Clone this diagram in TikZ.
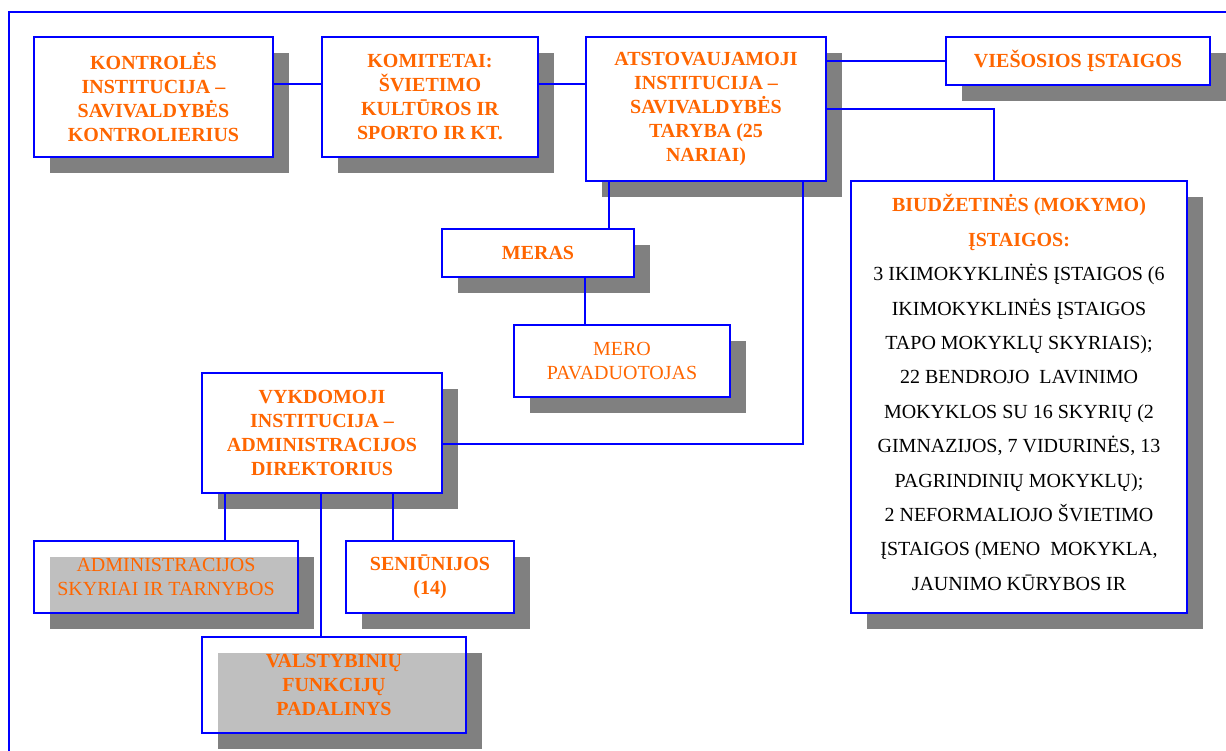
\documentclass[tikz,border=0pt]{standalone}
\usepackage{fontspec}
\setmainfont{Liberation Serif}
\usetikzlibrary{shadows}
\definecolor{lineblue}{RGB}{0,0,255}
\definecolor{txtorange}{RGB}{255,102,0}
\definecolor{shadowgrey}{RGB}{128,128,128}
\newcommand{\hd}[1]{\textcolor{txtorange}{\textbf{#1}}}
\tikzset{
  link/.style={draw=lineblue, line width=2pt},
  orgbox/.style={
    draw=lineblue, line width=2pt, fill=white,
    inner sep=0pt, align=center, text=txtorange,
    font=\fontsize{20}{24}\selectfont\bfseries,
    drop shadow={shadow xshift=16pt, shadow yshift=-16pt, fill=shadowgrey, opacity=1}
  },
  orgbox-thin/.style={orgbox, font=\fontsize{20}{24}\selectfont},
  orgbox-clear/.style={fill opacity=0.5, text opacity=1},
  orgbox-list/.style={orgbox-thin, text=black, font=\fontsize{20}{34.4}\selectfont}
}

\begin{document}
\begin{tikzpicture}[x=1pt, y=-1pt]
  \useasboundingbox (0,0) rectangle (1226,751);
  % frame
  \draw[link] (9,751) -- (9,12) -- (1226,12);
  % top row
  \node[orgbox, minimum width=239, minimum height=120] (kontrole) at (153.5,97)
    {KONTROLĖS\\INSTITUCIJA --\\SAVIVALDYBĖS\\KONTROLIERIUS};
  \node[orgbox, minimum width=216, minimum height=120] (komitetai) at (430,97)
    {KOMITETAI:\\ŠVIETIMO\\KULTŪROS IR\\SPORTO IR KT.};
  \node[orgbox, minimum width=240, minimum height=144] (taryba) at (706,109)
    {ATSTOVAUJAMOJI\\INSTITUCIJA --\\SAVIVALDYBĖS\\TARYBA (25\\NARIAI)};
  \node[orgbox, minimum width=264, minimum height=48] (viesosios) at (1078,61)
    {VIEŠOSIOS ĮSTAIGOS};
  \node[orgbox-list, minimum width=336, minimum height=432] (biudzetines) at (1019,397)
    {\hd{BIUDŽETINĖS (MOKYMO)}\\\hd{ĮSTAIGOS:}\\
     3 IKIMOKYKLINĖS ĮSTAIGOS (6\\IKIMOKYKLINĖS ĮSTAIGOS\\
     TAPO MOKYKLŲ SKYRIAIS);\\22 BENDROJO\enspace LAVINIMO\\
     MOKYKLOS SU 16 SKYRIŲ (2\\GIMNAZIJOS, 7 VIDURINĖS, 13\\
     PAGRINDINIŲ MOKYKLŲ);\\2 NEFORMALIOJO ŠVIETIMO\\
     ĮSTAIGOS (MENO\enspace MOKYKLA,\\JAUNIMO KŪRYBOS IR\rule[-9pt]{0pt}{9pt}};
  % mayor
  \node[orgbox, minimum width=192, minimum height=48] (meras) at (538,253) {MERAS};
  \node[orgbox-thin, minimum width=216, minimum height=72] (pavaduotojas) at (622,361)
    {MERO\\PAVADUOTOJAS};
  % administration
  \node[orgbox, minimum width=240, minimum height=120] (direktorius) at (322,433)
    {VYKDOMOJI\\INSTITUCIJA --\\ADMINISTRACIJOS\\DIREKTORIUS};
  \node[orgbox-thin, orgbox-clear, minimum width=264, minimum height=72] (skyriai) at (166,577)
    {ADMINISTRACIJOS\\SKYRIAI IR TARNYBOS};
  \node[orgbox, minimum width=168, minimum height=72] (seniunijos) at (430,577)
    {SENIŪNIJOS\\(14)};
  \node[orgbox, orgbox-clear, minimum width=264, minimum height=96] (padalinys) at (334,685)
    {VALSTYBINIŲ\\FUNKCIJŲ\\PADALINYS};
  % links
  \draw[link] ([yshift=-48pt]kontrole.north east) -- ([yshift=-48pt]komitetai.north west);
  \draw[link] ([yshift=-48pt]komitetai.north east) -- ([yshift=-48pt]taryba.north west);
  \draw[link] (taryba.east |- viesosios.west) -- (viesosios.west);
  \draw[link] (taryba.east) -| ([xshift=-25pt]biudzetines.north);
  \draw[link] ([xshift=24pt]taryba.south west) -- ([xshift=168pt]meras.north west);
  \draw[link] ([xshift=144pt]meras.south west) -- ([xshift=72pt]pavaduotojas.north west);
  \draw[link] ([xshift=-24pt]taryba.south east) |- ([yshift=-72pt]direktorius.north east);
  \draw[link] ([xshift=24pt]direktorius.south west) -- ([xshift=192pt]skyriai.north west);
  \draw[link] ([xshift=120pt]direktorius.south west) -- ([xshift=120pt]padalinys.north west);
  \draw[link] ([xshift=192pt]direktorius.south west) -- ([xshift=48pt]seniunijos.north west);
\end{tikzpicture}
\end{document}
